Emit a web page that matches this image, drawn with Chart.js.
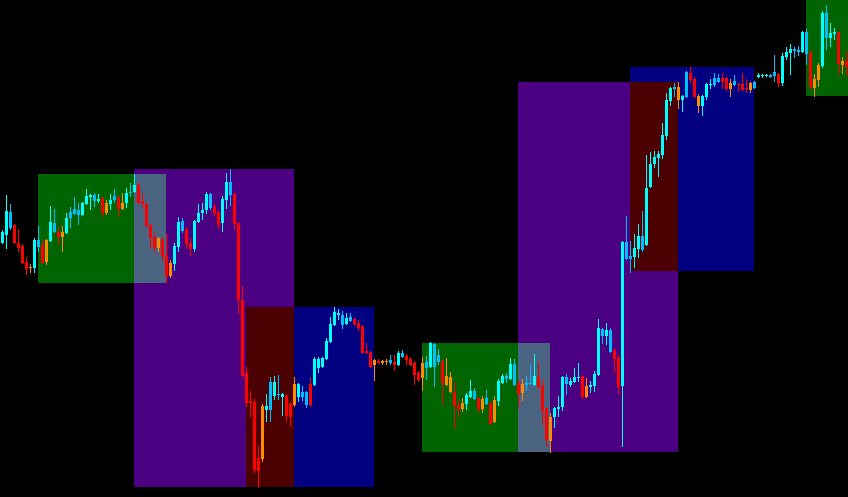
<!DOCTYPE html>
<html>
<head>
<meta charset="utf-8">
<script src="https://cdn.jsdelivr.net/npm/chart.js@4.4.1/dist/chart.umd.min.js"></script>
<style>
    html, body { margin: 0; padding: 0; background: #000; overflow: hidden; }
    canvas { display: block; }
</style>
</head>
<body>
<canvas id="priceChart" width="848" height="497"></canvas>
<script>
// M15 candles, prices in points
const opens = [
    757, 765, 772, 775, 757, 754, 738, 733, 732, 753, 755, 760, 759, 768, 768, 768, 767, 782, 786, 785,
    785, 796, 803, 799, 799, 802, 797, 796, 800, 803, 797, 797, 807, 808, 815, 799, 796, 775, 763, 762,
    761, 745, 737, 736, 753, 769, 771, 757, 751, 778, 787, 790, 792, 793, 788, 777, 800, 805, 806, 777,
    700, 627, 599, 598, 542, 541, 590, 590, 604, 605, 606, 604, 596, 595, 603, 603, 608, 595, 615, 632,
    633, 641, 658, 675, 685, 675, 676, 679, 681, 677, 674, 649, 648, 640, 639, 639, 639, 637, 638, 635,
    643, 644, 641, 637, 627, 637, 632, 633, 633, 638, 639, 624, 623, 608, 595, 597, 596, 603, 601, 602,
    601, 596, 597, 600, 599, 617, 621, 621, 615, 617, 616, 615, 616, 615, 623, 614, 592, 583, 583, 591,
    593, 616, 615, 618, 622, 624, 614, 613, 614, 625, 664, 664, 648, 650, 643, 614, 741, 741, 743, 751,
    750, 755, 813, 836, 842, 845, 864, 899, 911, 900, 904, 903, 920, 921, 904, 904, 903, 915, 915, 918,
    918, 922, 917, 915, 916, 916, 912, 917, 912, 923, 924, 924, 923, 924, 926, 917, 943, 947, 949, 948,
    948, 946, 947, 921, 935, 934, 962, 962, 966, 968, 939, 939
];
const highs = [
    770, 805, 796, 776, 771, 756, 743, 736, 762, 774, 760, 761, 794, 791, 773, 774, 787, 793, 803, 797,
    798, 811, 806, 807, 806, 803, 800, 806, 811, 804, 807, 812, 817, 826, 817, 807, 797, 776, 768, 763,
    762, 766, 740, 757, 783, 782, 772, 762, 780, 796, 797, 808, 807, 796, 790, 804, 827, 831, 807, 778,
    714, 633, 609, 601, 555, 596, 606, 623, 624, 625, 607, 606, 598, 623, 617, 614, 609, 623, 643, 643,
    643, 662, 683, 693, 691, 689, 687, 687, 682, 680, 675, 657, 649, 641, 641, 640, 641, 645, 645, 649,
    650, 646, 643, 639, 629, 643, 644, 658, 657, 651, 641, 642, 628, 618, 601, 602, 607, 620, 612, 603,
    604, 610, 598, 604, 621, 626, 627, 642, 641, 620, 621, 624, 635, 646, 637, 620, 593, 587, 593, 604,
    624, 626, 622, 632, 637, 625, 622, 619, 629, 681, 672, 677, 672, 651, 644, 759, 784, 759, 766, 776,
    789, 845, 848, 849, 849, 877, 907, 913, 917, 918, 905, 929, 933, 923, 906, 905, 917, 921, 927, 926,
    927, 923, 921, 925, 917, 927, 921, 918, 919, 927, 926, 926, 926, 945, 927, 947, 953, 956, 953, 954,
    969, 971, 950, 926, 937, 989, 995, 977, 972, 969, 943, 948
];
const lows = [
    756, 751, 770, 756, 748, 736, 725, 727, 727, 748, 736, 735, 758, 767, 755, 748, 766, 772, 785, 775,
    784, 795, 790, 793, 797, 783, 785, 790, 797, 783, 790, 792, 803, 807, 796, 791, 773, 751, 747, 748,
    739, 717, 722, 729, 748, 767, 751, 744, 748, 777, 780, 786, 790, 784, 771, 768, 791, 794, 770, 686,
    623, 593, 583, 527, 512, 538, 578, 578, 600, 600, 584, 579, 573, 593, 598, 599, 592, 593, 614, 627,
    632, 640, 657, 674, 680, 671, 675, 678, 674, 669, 646, 646, 632, 619, 636, 635, 635, 635, 629, 634,
    642, 635, 634, 615, 618, 609, 620, 632, 613, 635, 595, 614, 607, 571, 583, 588, 590, 602, 600, 587,
    587, 595, 575, 577, 594, 616, 617, 620, 614, 593, 599, 609, 615, 614, 611, 575, 553, 547, 572, 583,
    589, 605, 613, 617, 618, 601, 602, 607, 608, 624, 656, 655, 647, 628, 605, 553, 740, 727, 732, 742,
    748, 754, 812, 832, 823, 841, 860, 894, 903, 891, 888, 902, 917, 902, 887, 884, 900, 911, 913, 917,
    911, 909, 903, 914, 908, 909, 907, 907, 911, 922, 922, 923, 922, 918, 913, 914, 940, 925, 942, 944,
    947, 935, 910, 903, 913, 932, 950, 953, 960, 925, 926, 924
];
const closes = [
    768, 789, 788, 757, 752, 737, 731, 732, 760, 760, 737, 738, 778, 777, 763, 763, 782, 788, 791, 790,
    797, 804, 805, 805, 801, 787, 787, 800, 804, 791, 791, 807, 808, 815, 797, 796, 774, 762, 752, 752,
    744, 724, 724, 754, 778, 779, 756, 751, 779, 787, 790, 806, 806, 787, 775, 801, 818, 818, 776, 700,
    624, 597, 597, 530, 529, 594, 594, 618, 618, 606, 603, 584, 583, 616, 616, 608, 595, 616, 641, 641,
    642, 659, 676, 688, 687, 685, 682, 683, 676, 672, 647, 647, 633, 635, 637, 637, 638, 640, 635, 647,
    647, 640, 635, 625, 620, 622, 638, 657, 656, 645, 617, 615, 608, 594, 591, 591, 605, 609, 609, 591,
    591, 602, 576, 578, 619, 624, 624, 636, 636, 606, 607, 617, 617, 624, 613, 589, 560, 559, 592, 593,
    623, 623, 619, 623, 623, 603, 603, 615, 626, 672, 671, 670, 670, 641, 613, 758, 758, 744, 752, 764,
    764, 812, 836, 843, 846, 865, 900, 912, 913, 913, 900, 928, 927, 903, 894, 894, 916, 916, 922, 922,
    922, 911, 911, 919, 915, 910, 911, 910, 918, 925, 925, 925, 925, 928, 917, 944, 948, 951, 951, 950,
    968, 968, 913, 912, 920, 987, 987, 967, 968, 936, 935, 933
];
// C = cyan, B = deep sky blue, R = red, O = orange
const candleTypes =
    'CCBRRRROCBROCBROCBBB' + 'CCCBCROCBROCBCRRRRRO' +
    'RROCCBRRCCCCBRRCCBRR' + 'RRRRROCBCBCRROCBBRCC' +
    'CCCCCBCBRRRRROROOBRC' + 'BRRRROBCBBROORROCCBR' +
    'OBROCCBCBROBBCRRROCC' + 'CBCCCROCCCBCBRRCBBCC' +
    'BCCCCCCCBOCBRROCCCBB' + 'RROBRRROBCCCBBRCCCBB' +
    'CBROOCBCCROR';

// session boxes: first/last candle index and price range
const boxStart = [9, 33, 61, 105, 129, 157, 201];
const boxEnd = [41, 73, 93, 137, 169, 188, 233];
const boxHigh = [826, 831, 693, 657, 918, 933, 1000];
const boxLow = [717, 513, 513, 548, 548, 729, 904];
const boxKind = ['asia', 'europe', 'america', 'asia', 'europe', 'america', 'asia'];

const candleColors = { C: '#00ffff', B: '#00bfff', R: '#ff0000', O: '#ff8c00' };
const boxColors = { asia: '#006400', europe: '#4b0082', america: '#000080' };

const idx = opens.map((_, i) => i);
const colors = idx.map(i => candleColors[candleTypes[i]]);

// boxes blend like the terminal does (overlaps change colour)
const sessionBoxes = {
    id: 'sessionBoxes',
    beforeDatasetsDraw(chart) {
        const { ctx, scales: { x, y } } = chart;
        ctx.save();
        ctx.fillStyle = '#000';
        ctx.fillRect(0, 0, chart.width, chart.height);
        ctx.globalCompositeOperation = 'difference';
        boxKind.forEach((kind, i) => {
            const left = x.getPixelForValue(boxStart[i] - 0.125);
            const right = x.getPixelForValue(boxEnd[i] - 0.125);
            const top = y.getPixelForValue(boxHigh[i]);
            const bottom = y.getPixelForValue(boxLow[i]);
            ctx.fillStyle = boxColors[kind];
            ctx.fillRect(left, top, right - left, bottom - top);
        });
        ctx.restore();
    }
};

function initPriceChart() {
    const ctx = document.getElementById('priceChart');
    if (!ctx) return;

    new Chart(ctx, {
        type: 'bar',
        data: {
            datasets: [{
                label: 'Body',
                data: idx.map(i => ({ x: i, y: [opens[i], closes[i]] })),
                backgroundColor: colors,
                barThickness: 3,
                grouped: false,
                inflateAmount: 0,
                borderWidth: 0
            }, {
                label: 'Wick',
                data: idx.map(i => ({ x: i, y: [lows[i], highs[i]] })),
                backgroundColor: colors,
                barThickness: 1,
                grouped: false,
                inflateAmount: 0,
                borderWidth: 0
            }]
        },
        options: {
            responsive: false,
            animation: false,
            events: [],
            layout: { padding: 0 },
            plugins: {
                legend: { display: false },
                tooltip: { enabled: false }
            },
            scales: {
                x: {
                    type: 'linear',
                    min: -0.625,
                    max: 211.375,
                    offset: false,
                    display: false
                },
                y: {
                    min: 503,
                    max: 1000,
                    display: false
                }
            }
        },
        plugins: [sessionBoxes]
    });
}

initPriceChart();
</script>
</body>
</html>
